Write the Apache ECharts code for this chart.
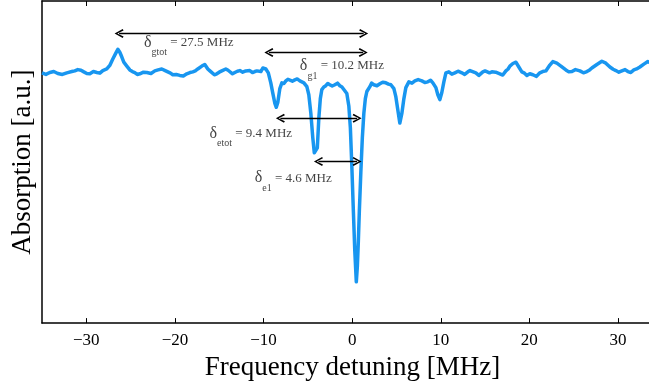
<!DOCTYPE html>
<html>
<head>
<meta charset="utf-8">
<script src="https://cdn.jsdelivr.net/npm/echarts@6/dist/echarts.min.js"></script>
<style>
html,body{margin:0;padding:0;background:#fff;}
#chart{width:649px;height:386px;}
</style>
</head>
<body>
<div id="chart"></div>
<script>
// Absorption trace: [frequency detuning (MHz), absorption (a.u.)]
var trace = [
  [-35.00,0.777],[-34.56,0.772],[-34.12,0.778],[-33.67,0.781],[-33.22,0.775],[-32.70,0.772],
  [-32.20,0.777],[-31.64,0.781],[-31.30,0.783],[-30.96,0.787],[-30.60,0.785],[-30.28,0.780],
  [-29.94,0.775],[-29.60,0.774],[-29.20,0.781],[-28.81,0.778],[-28.47,0.776],[-28.14,0.784],
  [-27.69,0.789],[-27.35,0.800],[-27.01,0.820],[-26.67,0.838],[-26.44,0.850],[-26.22,0.841],
  [-25.99,0.826],[-25.77,0.810],[-25.43,0.798],[-25.09,0.786],[-24.80,0.781],[-24.53,0.778],
  [-24.25,0.772],[-23.96,0.774],[-23.55,0.779],[-23.17,0.778],[-22.70,0.775],[-22.27,0.783],
  [-21.90,0.786],[-21.48,0.789],[-21.10,0.784],[-20.80,0.780],[-20.50,0.776],[-20.24,0.771],
  [-19.85,0.772],[-19.45,0.769],[-19.05,0.767],[-18.66,0.774],[-18.30,0.778],[-17.98,0.780],
  [-17.70,0.783],[-17.42,0.789],[-16.96,0.798],[-16.63,0.803],[-16.29,0.789],[-16.05,0.783],
  [-15.84,0.778],[-15.55,0.771],[-15.27,0.774],[-15.00,0.779],[-14.71,0.783],[-14.50,0.778],
  [-14.26,0.789],[-14.00,0.785],[-13.80,0.781],[-13.50,0.774],[-13.24,0.778],[-12.95,0.782],
  [-12.67,0.784],[-12.35,0.779],[-12.00,0.783],[-11.80,0.787],[-11.55,0.784],[-11.25,0.778],
  [-10.98,0.781],[-10.75,0.783],[-10.53,0.786],[-10.30,0.781],[-10.08,0.792],[-9.74,0.789],
  [-9.46,0.777],[-9.18,0.746],[-8.95,0.713],[-8.72,0.682],[-8.56,0.670],[-8.39,0.685],
  [-8.16,0.728],[-7.93,0.746],[-7.70,0.744],[-7.48,0.752],[-7.25,0.757],[-7.03,0.758],
  [-6.75,0.751],[-6.47,0.755],[-6.20,0.758],[-5.90,0.752],[-5.70,0.749],[-5.45,0.746],
  [-5.11,0.734],[-4.89,0.709],[-4.66,0.651],[-4.44,0.575],[-4.27,0.529],[-4.10,0.523],
  [-3.93,0.544],[-3.76,0.636],[-3.59,0.697],[-3.42,0.725],[-3.20,0.733],[-2.97,0.737],
  [-2.75,0.744],[-2.52,0.740],[-2.25,0.736],[-1.95,0.740],[-1.65,0.745],[-1.39,0.737],
  [-1.15,0.733],[-0.94,0.731],[-0.60,0.713],[-0.37,0.673],[-0.20,0.606],[-0.03,0.483],
  [0.14,0.346],[0.30,0.223],[0.47,0.128],[0.59,0.177],[0.70,0.254],[0.81,0.346],
  [0.98,0.468],[1.15,0.575],[1.32,0.651],[1.49,0.697],[1.66,0.719],[2.00,0.734],
  [2.20,0.745],[2.45,0.740],[2.80,0.737],[3.13,0.743],[3.45,0.748],[3.80,0.746],
  [4.10,0.742],[4.37,0.740],[4.71,0.728],[4.93,0.703],[5.16,0.661],[5.38,0.621],
  [5.61,0.651],[5.84,0.697],[6.06,0.731],[6.40,0.749],[6.75,0.745],[7.08,0.752],
  [7.45,0.756],[7.87,0.752],[8.20,0.747],[8.54,0.749],[8.85,0.754],[9.11,0.746],
  [9.45,0.731],[9.67,0.709],[9.90,0.694],[10.12,0.716],[10.35,0.749],[10.58,0.777],
  [10.91,0.780],[11.25,0.773],[11.59,0.777],[11.95,0.782],[12.38,0.777],[12.70,0.772],
  [13.06,0.780],[13.30,0.784],[13.51,0.787],[13.96,0.777],[14.10,0.773],[14.30,0.769],
  [14.50,0.773],[14.75,0.780],[15.00,0.783],[15.20,0.786],[15.50,0.777],[15.77,0.780],
  [16.20,0.779],[16.67,0.774],[17.00,0.770],[17.35,0.783],[17.60,0.789],[17.80,0.798],
  [18.14,0.806],[18.48,0.810],[18.81,0.795],[19.15,0.780],[19.45,0.776],[19.72,0.769],
  [20.05,0.774],[20.40,0.771],[20.80,0.766],[21.18,0.777],[21.50,0.781],[21.86,0.783],
  [22.31,0.801],[22.65,0.812],[23.10,0.807],[23.56,0.798],[24.12,0.786],[24.45,0.780],
  [24.80,0.781],[25.20,0.787],[25.70,0.783],[26.10,0.777],[26.49,0.781],[26.80,0.786],
  [27.05,0.792],[27.62,0.803],[28.18,0.813],[28.63,0.807],[29.09,0.795],[29.45,0.788],
  [29.76,0.784],[30.10,0.779],[30.44,0.783],[30.80,0.787],[31.12,0.781],[31.45,0.778],
  [31.79,0.786],[32.10,0.789],[32.47,0.795],[32.92,0.804],[33.37,0.812],[33.70,0.808],
  [34.16,0.813],[34.60,0.817]
];

// Tick values on the frequency axis
var xTicks = [-30, -20, -10, 0, 10, 20, 30];

// Double-headed arrows: start / end (MHz) and height (a.u.)
var arrowFrom  = [-26.8, -9.9, -8.6, -4.3];
var arrowTo    = [1.8, 1.75, 1.06, 1.06];
var arrowLevel = [0.899, 0.840, 0.636, 0.502];

// Annotation labels: left edge (MHz), height (a.u.), subscript and value text
var labelX    = [-23.5, -5.9, -16.1, -11.0];
var labelY    = [0.870, 0.798, 0.589, 0.450];
var labelSub  = ['gtot', 'g1', 'etot', 'e1'];
var labelText = [' = 27.5 MHz', ' = 10.2 MHz', ' = 9.4 MHz', ' = 4.6 MHz'];

var serif = "'Liberation Serif', 'Times New Roman', 'DejaVu Serif', serif";
var chevron = 'path://M0,9 L5,0 L10,9 L8.4,10 L5,3 L1.6,10 Z';
var tipOff = 0.5; // half arrow head length in MHz

var chart = echarts.init(document.getElementById('chart'), null, {renderer: 'canvas'});

var arrowData = arrowFrom.map(function (f, i) {
  return [
    {coord: [f + tipOff, arrowLevel[i]]},
    {coord: [arrowTo[i] - tipOff, arrowLevel[i]]}
  ];
});

var labelData = labelX.map(function (x, i) {
  return {
    value: [x, labelY[i]],
    label: {formatter: '{d|δ}{s|' + labelSub[i] + '}{n|' + labelText[i] + '}'}
  };
});

function fmt(v) {
  return v < 0 ? '\u2212' + Math.abs(v) : String(v);
}

var option = {
  animation: false,
  backgroundColor: '#fff',
  grid: {left: 42, top: 1, right: 0, bottom: 58, containLabel: false},
  xAxis: [{
    type: 'value',
    min: -35, max: 33.5,
    position: 'bottom',
    name: 'Frequency detuning [MHz]',
    nameLocation: 'middle',
    nameGap: 24,
    nameTextStyle: {fontFamily: serif, fontSize: 27, color: '#000', padding: [0, 0, 0, 14]},
    axisLine: {show: true, onZero: false, lineStyle: {color: '#000', width: 1.5}},
    axisTick: {show: true, inside: true, length: 5, customValues: xTicks, lineStyle: {color: '#000', width: 1}},
    axisLabel: {show: true, customValues: xTicks, formatter: fmt, fontFamily: serif, fontSize: 17, color: '#000', margin: 9},
    splitLine: {show: false}
  }, {
    type: 'value',
    min: -35, max: 33.5,
    position: 'top',
    axisLine: {show: true, onZero: false, lineStyle: {color: '#000', width: 1.5}},
    axisTick: {show: true, inside: true, length: 5, customValues: xTicks, lineStyle: {color: '#000', width: 1}},
    axisLabel: {show: false},
    splitLine: {show: false}
  }],
  yAxis: {
    type: 'value',
    min: 0, max: 1,
    name: 'Absorption [a.u.]',
    nameLocation: 'middle',
    nameGap: 6,
    nameTextStyle: {fontFamily: serif, fontSize: 27, color: '#000'},
    axisLine: {show: true, onZero: false, lineStyle: {color: '#000', width: 1.5}},
    axisTick: {show: false},
    axisLabel: {show: false},
    splitLine: {show: false}
  },
  series: [{
    type: 'line',
    data: trace,
    showSymbol: false,
    symbol: 'none',
    smooth: false,
    clip: true,
    lineStyle: {color: '#1896f0', width: 3.5, join: 'round'},
    silent: true,
    markLine: {
      silent: true,
      animation: false,
      symbol: [chevron, chevron],
      symbolSize: [9, 9],
      label: {show: false},
      lineStyle: {color: '#000', width: 1.4, type: 'solid'},
      emphasis: {disabled: true},
      data: arrowData
    }
  }, {
    type: 'scatter',
    data: labelData,
    symbolSize: 0,
    silent: true,
    clip: false,
    label: {
      show: true,
      position: [0, 0],
      align: 'left',
      verticalAlign: 'middle',
      color: '#111',
      rich: {
        d: {fontFamily: serif, fontSize: 16, lineHeight: 15, color: '#111'},
        s: {fontFamily: serif, fontSize: 10, lineHeight: 11, padding: [20, 0, 0, 0], color: '#111'},
        n: {fontFamily: serif, fontSize: 13, lineHeight: 15, color: '#111'}
      }
    }
  }]
};

chart.setOption(option);
</script>
</body>
</html>
